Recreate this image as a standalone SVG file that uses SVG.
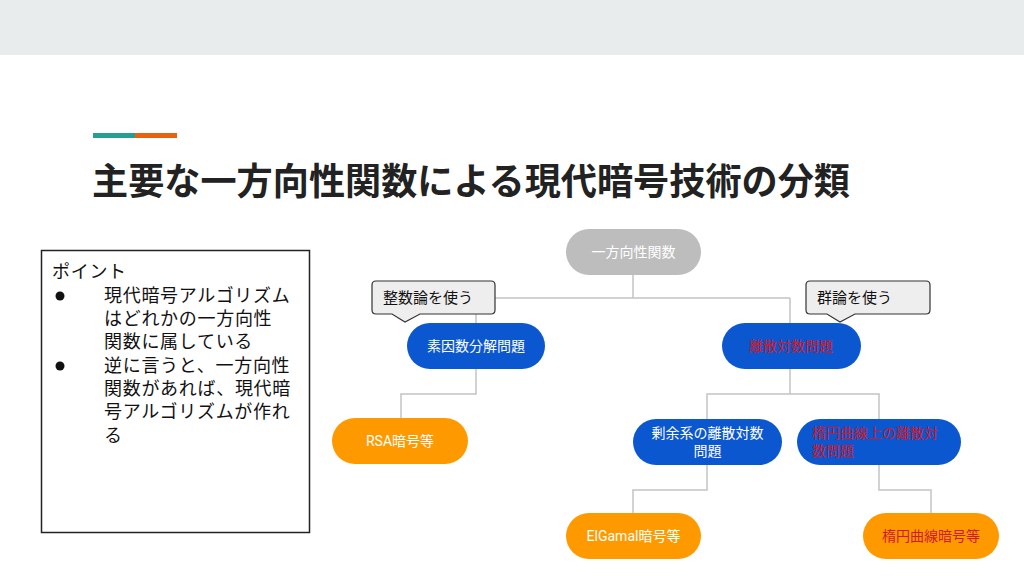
<svg xmlns="http://www.w3.org/2000/svg" width="1024" height="576" viewBox="0 0 1024 576">
<style>
.jp{font-family:Roboto,"Noto Sans CJK JP",sans-serif}
.nt{font-size:14px;text-anchor:middle;fill:#ffffff}
.red{fill:#d01a2a}
.conn{fill:none;stroke:#c4c4c4;stroke-width:1.5}
.call{fill:#eeeeee;stroke:#333333;stroke-width:1.2}
.ct{font-size:15px;fill:#111111}
.pt{font-family:"Liberation Sans","Noto Sans CJK JP",sans-serif;font-size:18px;letter-spacing:0.7px;fill:#111111}
.bl{fill:#111111}
</style>
<rect x="0" y="0" width="1024" height="576" fill="#ffffff"/>
<rect x="0" y="0" width="1024" height="55" fill="#e8ecec"/>
<rect x="93" y="133" width="42" height="5" fill="#23a093"/>
<rect x="135" y="133" width="42" height="5" fill="#e8620f"/>
<text x="92" y="195" font-family="'Noto Sans CJK JP',sans-serif" font-weight="bold" font-size="37" fill="#222222" textLength="758" lengthAdjust="spacingAndGlyphs">主要な一方向性関数による現代暗号技術の分類</text>

<g id="points">
<rect x="41.5" y="250.5" width="268" height="282" fill="#ffffff" stroke="#222222" stroke-width="1.5"/>
<text class="pt" x="52" y="278">ポイント</text>
<circle class="bl" cx="60" cy="296" r="4.5"/>
<text class="pt" x="104" y="302">現代暗号アルゴリズム</text>
<text class="pt" x="104" y="325">はどれかの一方向性</text>
<text class="pt" x="104" y="348">関数に属している</text>
<circle class="bl" cx="60" cy="366" r="4.5"/>
<text class="pt" x="104" y="372">逆に言うと、一方向性</text>
<text class="pt" x="104" y="395">関数があれば、現代暗</text>
<text class="pt" x="104" y="418">号アルゴリズムが作れ</text>
<text class="pt" x="104" y="442">る</text>
</g>

<g id="connectors">
<path class="conn" d="M633 275 V298 M476 298 H790 M476 298 V323 M790 298 V323"/>
<path class="conn" d="M476 369 V394 H401 V418"/>
<path class="conn" d="M790 369 V394 H707 V419 M790 394 H879 V419"/>
<path class="conn" d="M707 465 V490 H633 V513"/>
<path class="conn" d="M879 465 V490 H931 V513"/>
</g>

<g id="n-owf" class="jp">
<rect x="566" y="229" width="135" height="46" rx="23" fill="#bdbdbd"/>
<text class="nt" x="633.5" y="257">一方向性関数</text>
</g>
<g id="n-factor" class="jp">
<rect x="407" y="323" width="138" height="46" rx="23" fill="#0b57d0"/>
<text class="nt" x="476" y="351">素因数分解問題</text>
</g>
<g id="n-dlog" class="jp">
<rect x="722" y="323" width="139" height="46" rx="23" fill="#0b57d0"/>
<text class="nt red" x="791" y="351">離散対数問題</text>
</g>
<g id="n-rsa" class="jp">
<rect x="332" y="418" width="136" height="46" rx="23" fill="#ff9900"/>
<text class="nt" x="400" y="446">RSA暗号等</text>
</g>
<g id="n-mod" class="jp">
<rect x="633" y="419" width="149" height="46" rx="23" fill="#0b57d0"/>
<text class="nt" x="707.5" y="438">剰余系の離散対数</text>
<text class="nt" x="707.5" y="456">問題</text>
</g>
<g id="n-ec" class="jp">
<rect x="797" y="419" width="164" height="46" rx="23" fill="#0b57d0"/>
<text class="red" x="812" y="438" font-size="14">楕円曲線上の離散対</text>
<text class="red" x="812" y="456" font-size="14">数問題</text>
</g>
<g id="n-elgamal" class="jp">
<rect x="566" y="513" width="135" height="46" rx="23" fill="#ff9900"/>
<text class="nt" x="633.5" y="541">ElGamal暗号等</text>
</g>
<g id="n-ecc" class="jp">
<rect x="863" y="513" width="136" height="46" rx="23" fill="#ff9900"/>
<text class="nt red" x="931" y="541">楕円曲線暗号等</text>
</g>

<g id="callout-int" class="jp">
<path class="call" d="M376 281 H491 Q495 281 495 285 V310 Q495 314 491 314 H420 L405 322 L392 314 H376 Q372 314 372 310 V285 Q372 281 376 281 Z"/>
<text class="ct" x="383" y="303">整数論を使う</text>
</g>
<g id="callout-group" class="jp">
<path class="call" d="M810 281 H926 Q930 281 930 285 V310 Q930 314 926 314 H855 L840 322 L827 314 H810 Q806 314 806 310 V285 Q806 281 810 281 Z"/>
<text class="ct" x="817" y="303">群論を使う</text>
</g>
</svg>
